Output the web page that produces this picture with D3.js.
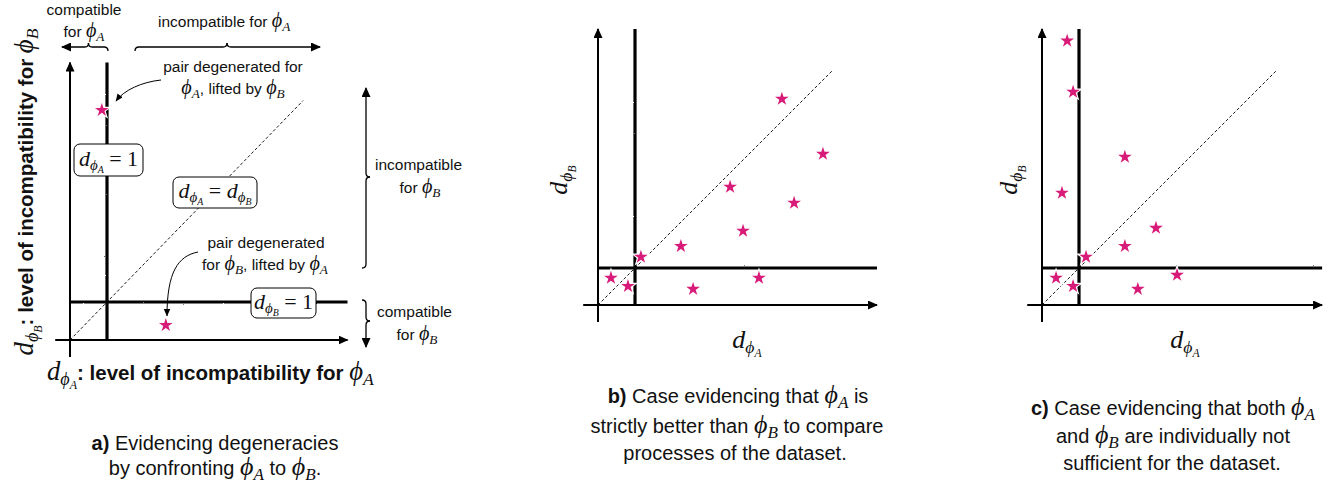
<!DOCTYPE html>
<html>
<head>
<meta charset="utf-8">
<script src="https://cdn.jsdelivr.net/npm/d3@7"></script>
<style>
html, body { margin: 0; padding: 0; background: #fff; }
svg { display: block; }
text { white-space: pre; }
</style>
</head>
<body>
<div id="fig"></div>
<script>
// Star positions, in units of the compatibility threshold (d = 1)
var starsA = [[0.86, 6.05], [2.59, 0.39]];
var starsB = [[4.97, 5.57], [6.08, 4.08], [3.57, 3.19], [5.30, 2.76], [3.92, 2.00], [2.24, 1.59],
              [1.16, 1.30], [0.35, 0.73], [4.35, 0.73], [0.81, 0.51], [2.57, 0.43]];
var starsC = [[0.68, 7.14], [0.84, 5.76], [2.24, 4.00], [0.54, 3.03], [3.08, 2.08], [2.24, 1.59],
              [1.19, 1.30], [0.38, 0.73], [3.65, 0.81], [0.84, 0.51], [2.59, 0.43]];
var threshold = 1;
var diagonalEnd = [6.3, 6.35, 6.35];

var svgWidth = 1336;
var svgHeight = 490;

var SANS = "'Liberation Sans', Arial, Helvetica, sans-serif";
var SERIF = "'Liberation Serif', 'Times New Roman', serif";
var PINK = "#d81b78";

var svg = d3.select("#fig").append("svg")
    .attr("width", svgWidth)
    .attr("height", svgHeight);

var defs = svg.append("defs");
defs.append("marker")
    .attr("id", "arr")
    .attr("markerUnits", "userSpaceOnUse")
    .attr("markerWidth", 10).attr("markerHeight", 9)
    .attr("refX", 9).attr("refY", 4.5)
    .attr("orient", "auto")
    .append("path").attr("d", "M0,0 L10,4.5 L0,9 Z").attr("fill", "#000");
defs.append("marker")
    .attr("id", "tip")
    .attr("markerUnits", "userSpaceOnUse")
    .attr("markerWidth", 8).attr("markerHeight", 7)
    .attr("refX", 7).attr("refY", 3.2)
    .attr("orient", "auto")
    .append("path").attr("d", "M0,0 L7.5,3.2 L0,6.4 Z").attr("fill", "#000");

// rough edge for the threshold lines
var rough = defs.append("filter")
    .attr("id", "rough")
    .attr("filterUnits", "userSpaceOnUse")
    .attr("x", 0).attr("y", 0).attr("width", svgWidth).attr("height", svgHeight);
rough.append("feTurbulence")
    .attr("type", "fractalNoise").attr("baseFrequency", 0.9)
    .attr("numOctaves", 1).attr("seed", 4).attr("result", "noise");
rough.append("feDisplacementMap")
    .attr("in", "SourceGraphic").attr("in2", "noise").attr("scale", 1.8);

// text made of runs: sans, bold, math italic, roman; b = baseline shift in em
function rich(parent, x, y, size, anchor, runs) {
    var t = parent.append("text")
        .attr("x", x).attr("y", y)
        .attr("font-size", size)
        .attr("text-anchor", anchor || "start")
        .attr("fill", "#111");
    var prev = 0;
    runs.forEach(function (r) {
        var b = r.b || 0;
        var ts = t.append("tspan").text(r.t)
            .attr("font-size", (size * (r.s || 1)).toFixed(2))
            .attr("dy", ((b - prev) * size).toFixed(2));
        prev = b;
        if (r.f === "mi") ts.attr("font-family", SERIF).attr("font-style", "italic");
        else if (r.f === "rm") ts.attr("font-family", SERIF);
        else if (r.f === "bold") ts.attr("font-family", SANS).attr("font-weight", "bold");
        else ts.attr("font-family", SANS);
    });
    return t;
}

function sans(t) { return { t: t, f: "sans" }; }
function bold(t) { return { t: t, f: "bold" }; }
function phi(X, s) {
    s = s || 1.3;
    return [{ t: "ϕ", f: "mi", s: s }, { t: X, f: "mi", s: s * 0.66, b: 0.2 * s }];
}
function dphi(X, s) {
    s = s || 1;
    return [{ t: "d", f: "mi", s: s },
            { t: "ϕ", f: "mi", s: s * 0.68, b: 0.2 * s },
            { t: X, f: "mi", s: s * 0.45, b: 0.33 * s }];
}
function rm(t, s) { return { t: t, f: "rm", s: s || 1 }; }

// Panels
var panels = [
    { ox: 70, oy: 340, ux: 37, uy: 38, xMin: -0.4, xMax: 7.5, yMin: -0.45, yMax: 7.3, stars: starsA, diag: diagonalEnd[0] },
    { ox: 598, oy: 305, ux: 37, uy: 37, xMin: -0.4, xMax: 7.54, yMin: -0.46, yMax: 7.46, stars: starsB, diag: diagonalEnd[1] },
    { ox: 1042, oy: 305, ux: 37, uy: 37, xMin: -0.4, xMax: 7.57, yMin: -0.46, yMax: 7.46, stars: starsC, diag: diagonalEnd[2] }
];

var star = d3.symbol().type(d3.symbolStar).size(58);

panels.forEach(function (p) {
    var x = d3.scaleLinear().domain([0, threshold]).range([p.ox, p.ox + p.ux]);
    var y = d3.scaleLinear().domain([0, threshold]).range([p.oy, p.oy - p.uy]);
    p.x = x; p.y = y;
    var g = svg.append("g");
    p.g = g;

    // d_A = d_B
    g.append("line")
        .attr("x1", x(0)).attr("y1", y(0))
        .attr("x2", x(p.diag)).attr("y2", y(p.diag))
        .attr("stroke", "#000").attr("stroke-width", 0.9)
        .attr("stroke-dasharray", "3,2.2");

    // thresholds d = 1
    var th = g.append("g").attr("filter", "url(#rough)");
    th.append("line")
        .attr("x1", x(threshold)).attr("y1", y(0))
        .attr("x2", x(threshold)).attr("y2", y(p.yMax))
        .attr("stroke", "#000").attr("stroke-width", 3.2);
    th.append("line")
        .attr("x1", x(0)).attr("y1", y(threshold))
        .attr("x2", x(p.xMax)).attr("y2", y(threshold))
        .attr("stroke", "#000").attr("stroke-width", 3.2);

    // axes
    g.append("line")
        .attr("x1", x(p.xMin)).attr("y1", y(0))
        .attr("x2", x(p.xMax)).attr("y2", y(0))
        .attr("stroke", "#000").attr("stroke-width", 2)
        .attr("marker-end", "url(#arr)");
    g.append("line")
        .attr("x1", x(0)).attr("y1", y(p.yMin))
        .attr("x2", x(0)).attr("y2", y(p.yMax))
        .attr("stroke", "#000").attr("stroke-width", 2)
        .attr("marker-end", "url(#arr)");
});

// ---- panel a annotations ----
var ga = panels[0].g;

// boxes
function box(g, bx, by, bw, bh, ty, runs) {
    g.append("rect")
        .attr("x", bx).attr("y", by).attr("width", bw).attr("height", bh)
        .attr("rx", 6).attr("fill", "#fff")
        .attr("stroke", "#000").attr("stroke-width", 1);
    rich(g, bx + bw / 2, ty, 22, "middle", runs);
}
box(ga, 74, 144, 69, 32, 166, dphi("A").concat([rm(" = 1")]));
box(ga, 173, 177, 84, 31, 198, dphi("A").concat([rm(" = ")], dphi("B")));
box(ga, 251, 288, 65, 30, 309, dphi("B").concat([rm(" = 1")]));

// braces and region arrows
function pathLine(d, marker) {
    var pth = ga.append("path").attr("d", d)
        .attr("fill", "none").attr("stroke", "#000").attr("stroke-width", 1.3);
    if (marker) pth.attr("marker-end", "url(#arr)");
}
// top: compatible / incompatible for phi_A
pathLine("M88.5,43 Q88.5,47 85,47 L62,47", true);
pathLine("M88.5,43 Q88.5,47 92,47 L104,47 Q108,47 108,51");
pathLine("M135,51 Q135,47 139,47 L223,47 Q227,47 227,43");
pathLine("M227,43 Q227,47 231,47 L320,47", true);
// right: incompatible / compatible for phi_B
pathLine("M370,177 Q366,177 366,173 L366,88", true);
pathLine("M370,177 Q366,177 366,181 L366,264 Q366,268 362,268");
pathLine("M362,300 Q366,300 366,304 L366,317 Q366,321 370,321");
pathLine("M370,321 Q366,321 366,325 L366,347", true);

// curved pointers
ga.append("path").attr("d", "M161,80 C142,82 124,90 116,101")
    .attr("fill", "none").attr("stroke", "#000").attr("stroke-width", 1)
    .attr("marker-end", "url(#tip)");
ga.append("path").attr("d", "M198,252 C178,256 167,272 167,316")
    .attr("fill", "none").attr("stroke", "#000").attr("stroke-width", 1)
    .attr("marker-end", "url(#tip)");

var fs = 15.5;
rich(ga, 84, 15, fs, "middle", [sans("compatible")]);
rich(ga, 84, 37, fs, "middle", [sans("for ")].concat(phi("A")));
rich(ga, 158, 27, fs, "start", [sans("incompatible for ")].concat(phi("A")));
rich(ga, 233, 72, fs, "middle", [sans("pair degenerated for")]);
rich(ga, 233, 94, fs, "middle", phi("A").concat([sans(", lifted by ")], phi("B")));
rich(ga, 375, 170, fs, "start", [sans("incompatible")]);
rich(ga, 420, 193, fs, "middle", [sans("for ")].concat(phi("B")));
rich(ga, 266, 248, fs, "middle", [sans("pair degenerated")]);
rich(ga, 265, 270, fs, "middle", [sans("for ")].concat(phi("B"), [sans(", lifted by ")], phi("A")));
rich(ga, 377, 317, fs, "start", [sans("compatible")]);
rich(ga, 417, 340, fs, "middle", [sans("for ")].concat(phi("B")));

// axis labels panel a
rich(ga, 47, 380, 20.5, "start",
    dphi("A", 1.3).concat([bold(": level of incompatibility for ")], phi("A", 1.3)));
rich(ga, 0, 0, 20.5, "middle",
    dphi("B", 1.3).concat([bold(": level of incompatibility for ")], phi("B", 1.3)))
    .attr("transform", "translate(33,192) rotate(-90)");

// axis labels panels b and c
rich(panels[1].g, 747, 348, 26, "middle", dphi("A"));
rich(panels[1].g, 0, 0, 26, "middle", dphi("B")).attr("transform", "translate(567,180) rotate(-90)");
rich(panels[2].g, 1185, 348, 26, "middle", dphi("A"));
rich(panels[2].g, 0, 0, 26, "middle", dphi("B")).attr("transform", "translate(1017,180) rotate(-90)");

// stars on top, with a white halo
panels.forEach(function (p) {
    var pos = function (d) { return "translate(" + p.x(d[0]) + "," + p.y(d[1]) + ")"; };
    p.g.selectAll(".halo")
        .data(p.stars)
        .enter()
        .append("path")
        .attr("class", "halo")
        .attr("d", star)
        .attr("transform", pos)
        .attr("fill", "#fff")
        .attr("stroke", "#fff").attr("stroke-width", 2.2);
    p.g.selectAll(".star")
        .data(p.stars)
        .enter()
        .append("path")
        .attr("class", "star")
        .attr("d", star)
        .attr("transform", pos)
        .attr("fill", PINK);
});

// captions
var cs = 20;
rich(svg, 215, 450, cs, "middle", [bold("a) "), sans("Evidencing degeneracies")]);
rich(svg, 215, 475, cs, "middle", [sans("by confronting ")].concat(phi("A"), [sans(" to ")], phi("B"), [sans(".")]));

rich(svg, 738, 403, cs, "middle", [bold("b) "), sans("Case evidencing that ")].concat(phi("A"), [sans(" is")]));
rich(svg, 737, 433, cs, "middle", [sans("strictly better than ")].concat(phi("B"), [sans(" to compare")]));
rich(svg, 735, 460, cs, "middle", [sans("processes of the dataset.")]);

rich(svg, 1173, 415, cs, "middle", [bold("c) "), sans("Case evidencing that both ")].concat(phi("A")));
rich(svg, 1173, 443, cs, "middle", [sans("and ")].concat(phi("B"), [sans(" are individually not")]));
rich(svg, 1172, 470, cs, "middle", [sans("sufficient for the dataset.")]);
</script>
</body>
</html>
